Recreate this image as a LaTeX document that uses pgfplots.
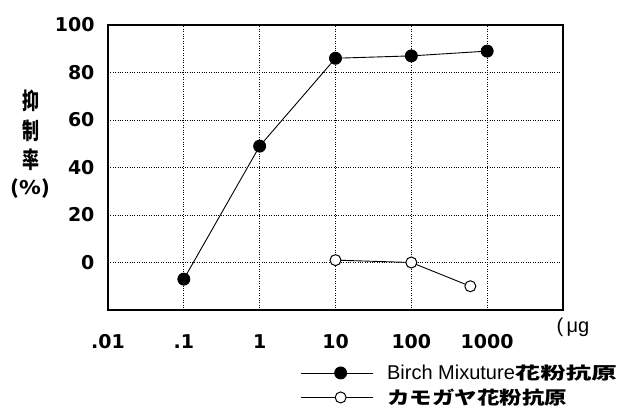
\documentclass[border=0pt]{standalone}
\usepackage{fontspec}
\usepackage{graphicx}
\usepackage{pgfplots}
\pgfplotsset{compat=1.18}
\setmainfont{Liberation Sans}
\newfontfamily\dvb{DejaVu Sans}
\newfontfamily\jp{Noto Sans CJK JP}
\newfontfamily\jpw{Noto Sans CJK JP}[FakeStretch=1.25]
\newfontfamily\jpww{Noto Sans CJK JP}[FakeStretch=1.5]
\begin{document}
\begin{tikzpicture}[x=1pt,y=1pt]
\path[use as bounding box] (0,0) rectangle (618,408);
\begin{axis}[
  at={(108pt,98pt)}, anchor=south west,
  width=455pt, height=285pt, scale only axis,
  xmode=log, xmin=0.01, xmax=10000, ymin=-20, ymax=100,
  xtick={0.01,0.1,1,10,100,1000}, xticklabels={.01,.1,1,10,100,1000},
  ytick={0,20,40,60,80,100}, yticklabels={0,20,40,60,80,100},
  xminorticks=false, yminorticks=false,
  xmajorgrids, ymajorgrids,
  grid style={black, dotted, line width=0.9pt},
  major tick length=0pt,
  axis line style={line width=1.3pt},
  tick label style={font=\dvb\bfseries\fontsize{19}{19}\selectfont},
  xticklabel style={yshift=-21pt},
  yticklabel style={xshift=-10pt},
  every axis y label/.style={at={(axis description cs:-0.17,0.579)}, anchor=center},
  ylabel={\jp\bfseries\fontsize{17}{17}\selectfont\begin{tabular}{@{}c@{}}\scalebox{1}[1.35]{抑}\\[5pt]\scalebox{1}[1.35]{制}\\[5pt]\scalebox{1}[1.35]{率}\\[5pt]\scalebox{1.3}[1.1]{(\%)}\end{tabular}},
  legend style={at={(axis description cs:0.422,-0.185)}, anchor=north west, draw=none, fill=none,
    font=\fontsize{20}{20}\selectfont, row sep=4pt, inner sep=0pt,
    /tikz/every odd column/.append style={column sep=12pt}},
  legend cell align=left,
  legend image code/.code={\draw[mark repeat=2,mark phase=2,#1] plot coordinates {(0pt,0pt) (40pt,0pt) (72pt,0pt)};},
]
\addplot[black, line width=0.9pt, mark=*, mark size=6pt, mark options={fill=black}]
  coordinates {(0.1,-7) (1,49) (10,86) (100,87) (1000,89)};
\addlegendentry{Birch Mixuture{\jpww\bfseries\fontsize{17}{17}\selectfont 花粉抗原}}
\addplot[black, line width=0.9pt, mark=*, mark size=5.5pt, mark options={fill=white, line width=1pt}]
  coordinates {(10,1) (100,0) (600,-10)};
\addlegendentry{{\jpw\bfseries\fontsize{18}{18}\selectfont カモガヤ花粉抗原}}
\end{axis}
\node[anchor=base west, font=\fontsize{20}{20}\selectfont] at (553,76) {(\,μg};
\end{tikzpicture}
\end{document}
